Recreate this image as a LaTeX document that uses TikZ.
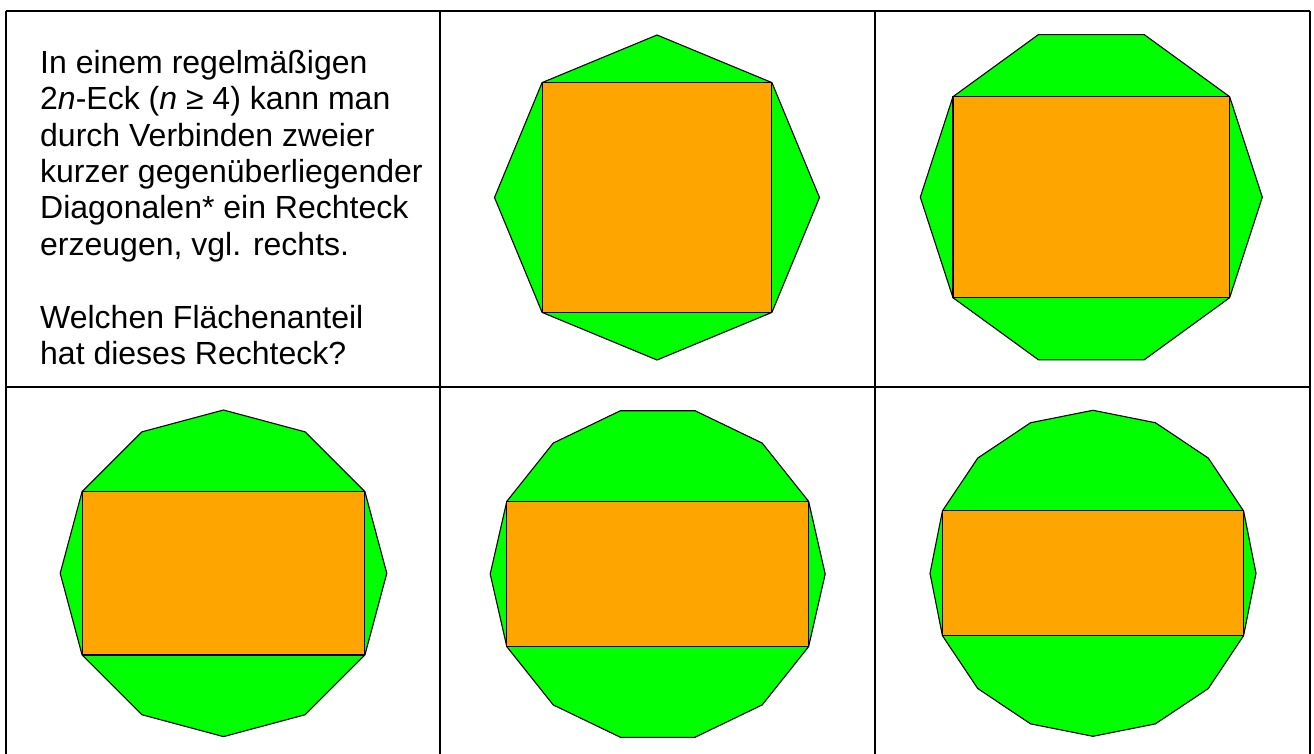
\documentclass[tikz,border=0pt]{standalone}
\usepackage{fontspec}
\setmainfont{Liberation Sans}
\definecolor{gongreen}{HTML}{00FF00}
\definecolor{rectorange}{HTML}{FFA500}
\tikzset{
  gonfill/.style={fill=gongreen, draw=black, line width=1.1pt, line join=miter},
  rectfill/.style={fill=rectorange, draw=black, line width=1.1pt},
  tableline/.style={draw=black, line width=2pt},
  txt/.style={anchor=base west, inner sep=0pt, font=\fontsize{32}{36.5}\selectfont}
}
\newcommand\drawgon[4]{%
  \begin{scope}[shift={(#1,#2)}]
    \pgfmathsetmacro\gonang{360/#4}
    \pgfmathtruncatemacro\gonlast{#4-1}
    \filldraw[gonfill] (0:#3) \foreach \k in {1,...,\gonlast} { -- (\k*\gonang:#3) } -- cycle;
    \filldraw[rectfill] (\gonang:#3) -- (180-\gonang:#3) -- (180+\gonang:#3) -- (-\gonang:#3) -- cycle;
  \end{scope}}
\begin{document}
\begin{tikzpicture}[x=1pt, y=-1pt]
\useasboundingbox (0,0) rectangle (1314,754);
\fill[white] (0,0) rectangle (1314,754);
% table
\draw[tableline] (6,11) -- (1310,11);
\draw[tableline] (6,386.7) -- (1310,386.7);
\draw[tableline] (6,11) -- (6,754);
\draw[tableline] (440,11) -- (440,754);
\draw[tableline] (875,11) -- (875,754);
\draw[tableline] (1310,11) -- (1310,754);
% text
\node[txt] (t1) at (40,73.3) {In einem regelmäßigen};
\node[txt] (t2) at (40,109.7) {2\textit{n}-Eck (\textit{n} ≥ 4) kann man};
\node[txt] (t3) at (40,146.1) {durch Verbinden zweier};
\node[txt] (t4) at (40,182.5) {kurzer gegenüberliegender};
\node[txt] (t5) at (40,218.9) {Diagonalen* ein Rechteck};
\node[txt] (t6) at (40,255.3) {erzeugen, vgl. rechts.};
\node[txt] (t7) at (40,328.1) {Welchen Flächenanteil};
\node[txt] (t8) at (40,364.5) {hat dieses Rechteck?};
% polygons
\drawgon{657}{197.5}{162.5}{8}
\drawgon{1091.3}{197.2}{171}{10}
\drawgon{223.5}{573.3}{163.3}{12}
\drawgon{657.7}{574}{167.5}{14}
\drawgon{1093}{573.3}{163}{16}
\end{tikzpicture}
\end{document}
